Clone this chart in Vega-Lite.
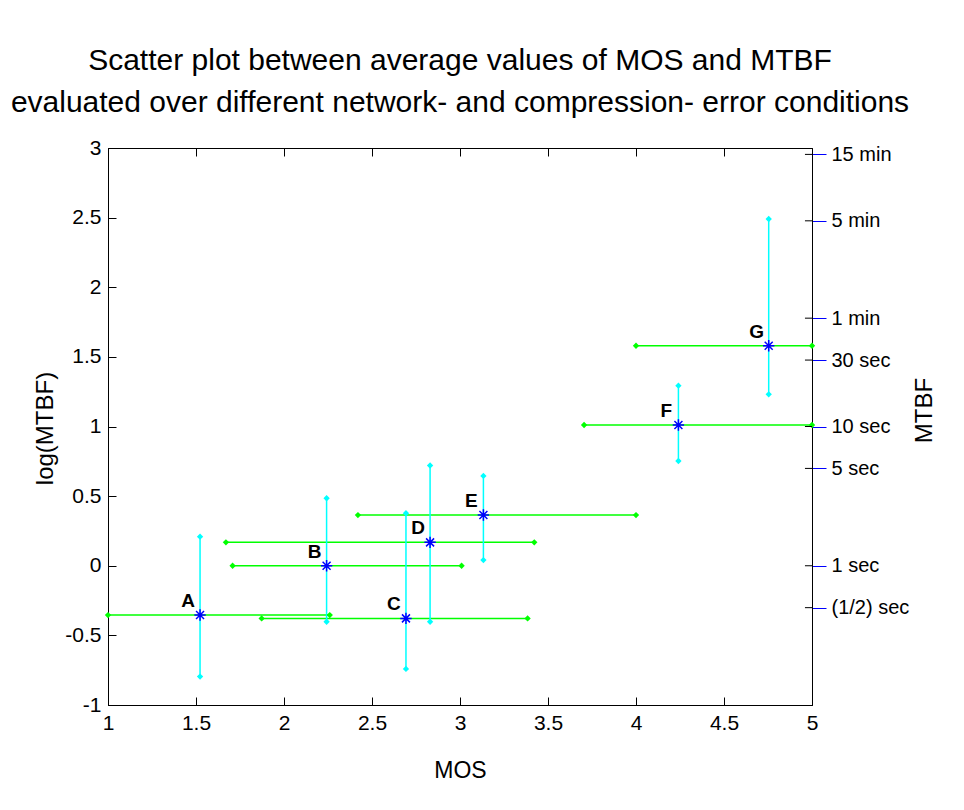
{
  "$schema": "https://vega.github.io/schema/vega-lite/v6.json",
  "width": 704,
  "height": 557,
  "autosize": {"type": "none"},
  "padding": {"left": 108, "top": 148, "right": 152, "bottom": 105},
  "background": "white",
  "config": {
    "font": "Liberation Sans",
    "view": {"stroke": "black", "strokeWidth": 1},
    "axis": {"grid": false, "labelColor": "black", "titleColor": "black", "domainColor": "black", "tickColor": "black", "labelFlush": false, "labelOverlap": false, "labelBound": false, "titleFontWeight": "normal"}
  },
  "title": {
    "text": ["Scatter plot between average values of MOS and MTBF", "evaluated over different network- and  compression- error conditions"],
    "fontSize": 30,
    "fontWeight": "normal",
    "anchor": "middle",
    "offset": 19,
    "lineHeight": 42,
    "color": "black"
  },
  "datasets": {
    "pts": [
      {"label": "A", "mos": 1.523, "log": -0.354, "mos_lo": 1.0, "mos_hi": 2.26, "log_lo": -0.796, "log_hi": 0.209},
      {"label": "B", "mos": 2.242, "log": 0.0, "mos_lo": 1.708, "mos_hi": 3.009, "log_lo": -0.402, "log_hi": 0.485},
      {"label": "C", "mos": 2.693, "log": -0.378, "mos_lo": 1.873, "mos_hi": 3.384, "log_lo": -0.741, "log_hi": 0.377},
      {"label": "D", "mos": 2.83, "log": 0.168, "mos_lo": 1.67, "mos_hi": 3.422, "log_lo": -0.402, "log_hi": 0.72},
      {"label": "E", "mos": 3.133, "log": 0.364, "mos_lo": 2.42, "mos_hi": 4.0, "log_lo": 0.041, "log_hi": 0.645},
      {"label": "F", "mos": 4.241, "log": 1.011, "mos_lo": 3.705, "mos_hi": 5.0, "log_lo": 0.752, "log_hi": 1.293},
      {"label": "G", "mos": 4.754, "log": 1.58, "mos_lo": 4.0, "mos_hi": 5.0, "log_lo": 1.231, "log_hi": 2.49}
    ],
    "rt": [
      {"mtbf": "15 min", "log": 2.954},
      {"mtbf": "5 min", "log": 2.477},
      {"mtbf": "1 min", "log": 1.778},
      {"mtbf": "30 sec", "log": 1.477},
      {"mtbf": "10 sec", "log": 1.0},
      {"mtbf": "5 sec", "log": 0.699},
      {"mtbf": "1 sec", "log": 0.0},
      {"mtbf": "(1/2) sec", "log": -0.301}
    ]
  },
  "layer": [
    {
      "data": {"name": "pts"},
      "layer": [
        {
          "mark": {"type": "rule", "color": "#00ff00", "strokeWidth": 1.5},
          "encoding": {
            "x": {"field": "mos_lo", "type": "quantitative", "title": "MOS",
              "scale": {"domain": [1, 5], "nice": false, "zero": false},
              "axis": {"orient": "bottom", "title": "MOS", "values": [1, 1.5, 2, 2.5, 3, 3.5, 4, 4.5, 5], "labelFontSize": 21, "tickSize": -8, "labelPadding": 15, "titleFontSize": 23, "titleY": 65, "titleBaseline": "middle", "labelExpr": "format(datum.value, '')"}},
            "x2": {"field": "mos_hi"},
            "y": {"field": "log", "type": "quantitative", "title": "log(MTBF)",
              "scale": {"domain": [-1, 3], "nice": false, "zero": false},
              "axis": {"orient": "left", "title": "log(MTBF)", "values": [-1, -0.5, 0, 0.5, 1, 1.5, 2, 2.5, 3], "labelFontSize": 21, "tickSize": -8, "labelPadding": 15, "titleFontSize": 24, "titleX": -63, "titleY": 280, "titleAngle": 270, "titleBaseline": "middle", "titleAlign": "center", "labelExpr": "datum.value < 0 ? '-' + format(-datum.value, '') : format(datum.value, '')"}}
          }
        },
        {
          "mark": {"type": "rule", "color": "#00ffff", "strokeWidth": 1.5},
          "encoding": {
            "x": {"field": "mos", "type": "quantitative", "title": "MOS"},
            "y": {"field": "log_lo", "type": "quantitative", "title": "log(MTBF)"},
            "y2": {"field": "log_hi"}
          }
        },
        {
          "mark": {"type": "point", "shape": "diamond", "filled": true, "color": "#00ff00", "size": 40, "opacity": 1},
          "encoding": {
            "x": {"field": "mos_lo", "type": "quantitative", "title": "MOS"},
            "y": {"field": "log", "type": "quantitative", "title": "log(MTBF)"}
          }
        },
        {
          "mark": {"type": "point", "shape": "diamond", "filled": true, "color": "#00ff00", "size": 40, "opacity": 1},
          "encoding": {
            "x": {"field": "mos_hi", "type": "quantitative", "title": "MOS"},
            "y": {"field": "log", "type": "quantitative", "title": "log(MTBF)"}
          }
        },
        {
          "mark": {"type": "point", "shape": "diamond", "filled": true, "color": "#00ffff", "size": 40, "opacity": 1},
          "encoding": {
            "x": {"field": "mos", "type": "quantitative", "title": "MOS"},
            "y": {"field": "log_lo", "type": "quantitative", "title": "log(MTBF)"}
          }
        },
        {
          "mark": {"type": "point", "shape": "diamond", "filled": true, "color": "#00ffff", "size": 40, "opacity": 1},
          "encoding": {
            "x": {"field": "mos", "type": "quantitative", "title": "MOS"},
            "y": {"field": "log_hi", "type": "quantitative", "title": "log(MTBF)"}
          }
        },
        {
          "mark": {"type": "point", "shape": "M-1,0L1,0M0,-1L0,1M-0.7,-0.7L0.7,0.7M-0.7,0.7L0.7,-0.7", "filled": false, "stroke": "#0000ff", "strokeWidth": 1.5, "size": 130, "opacity": 1},
          "encoding": {
            "x": {"field": "mos", "type": "quantitative", "title": "MOS"},
            "y": {"field": "log", "type": "quantitative", "title": "log(MTBF)"}
          }
        },
        {
          "mark": {"type": "text", "fontWeight": "bold", "fontSize": 19, "color": "black", "dx": -12, "dy": -14, "align": "center", "baseline": "middle"},
          "encoding": {
            "x": {"field": "mos", "type": "quantitative", "title": "MOS"},
            "y": {"field": "log", "type": "quantitative", "title": "log(MTBF)"},
            "text": {"field": "label"}
          }
        }
      ]
    },
    {
      "data": {"name": "rt"},
      "mark": {"type": "rule", "color": "black", "strokeWidth": 1},
      "encoding": {
        "x": {"datum": 5, "type": "quantitative",
          "scale": {"domain": [1, 5], "nice": false, "zero": false},
          "axis": {"orient": "top", "title": null, "values": [1, 1.5, 2, 2.5, 3, 3.5, 4, 4.5, 5], "labels": false, "domain": false, "tickSize": -8}},
        "x2": {"datum": 4.96},
        "y": {"field": "log", "type": "quantitative",
          "scale": {"domain": [-1, 3], "nice": false, "zero": false},
          "axis": {"orient": "right", "title": "MTBF", "values": [2.954, 2.477, 1.778, 1.477, 1, 0.699, 0, -0.301], "tickColor": "blue", "tickSize": 14, "labelPadding": 5, "labelFontSize": 20, "labelAlign": "left", "titleFontSize": 24, "titleX": 112, "titleY": 262, "titleAngle": 270, "titleBaseline": "middle", "titleAlign": "center",
            "labelExpr": "datum.value > 2.9 ? '15 min' : datum.value > 2.4 ? '5 min' : datum.value > 1.7 ? '1 min' : datum.value > 1.4 ? '30 sec' : datum.value > 0.9 ? '10 sec' : datum.value > 0.6 ? '5 sec' : datum.value > -0.1 ? '1 sec' : '(1/2) sec'"}}
      }
    }
  ],
  "resolve": {"axis": {"x": "independent", "y": "independent"}}
}
